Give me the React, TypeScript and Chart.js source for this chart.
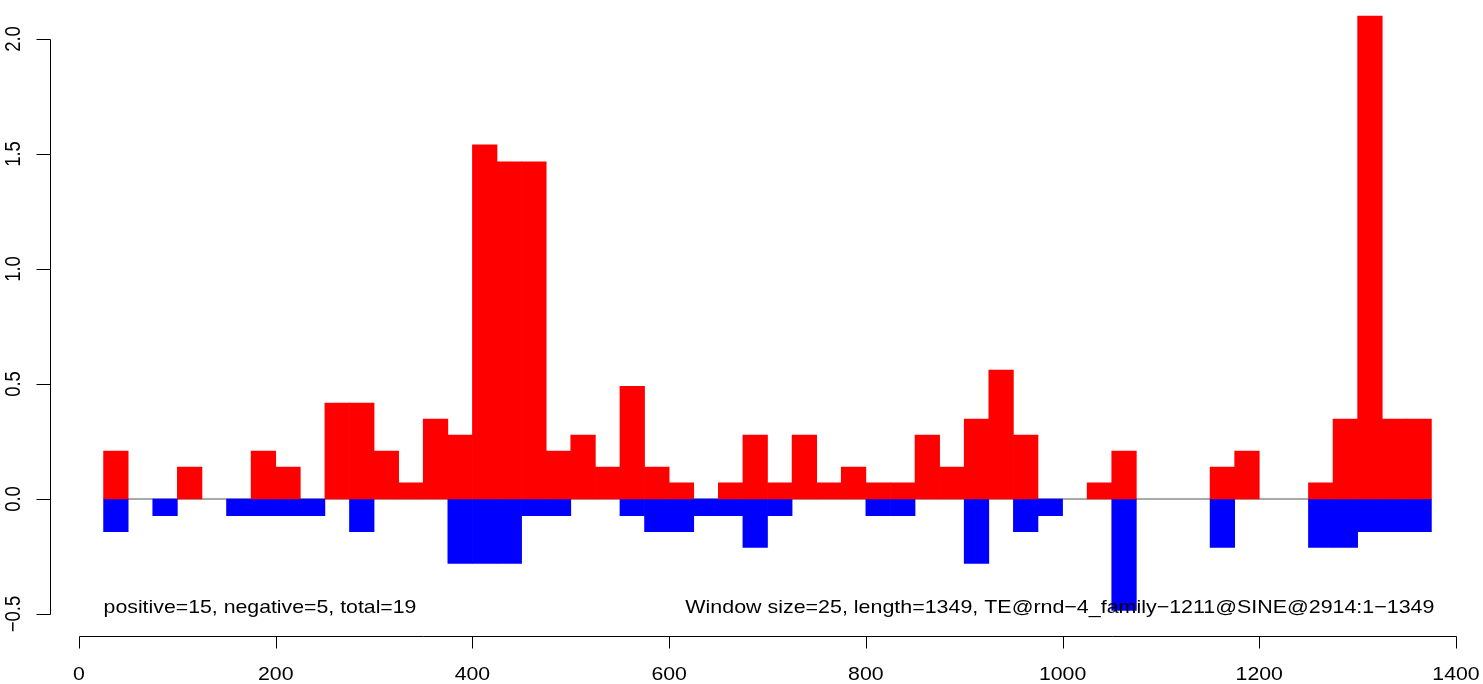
import React, { useEffect, useRef } from "react";
import { Chart, registerables } from "chart.js";

Chart.register(...registerables);

// Window start positions (window size = 25)
const windowStarts = [
  25, 50, 75, 100, 125, 150, 175, 200, 225, 250, 275, 300, 325, 350, 375, 400, 425, 450,
  475, 500, 525, 550, 575, 600, 625, 650, 675, 700, 725, 750, 775, 800, 825, 850, 875, 900,
  925, 950, 975, 1000, 1025, 1050, 1075, 1100, 1125, 1150, 1175, 1200, 1225, 1250, 1275, 1300,
  1325, 1350,
];
const windowSize = 25;

const positiveValues = [
  0.208, 0, 0, 0.139, 0, 0, 0.208, 0.139, 0, 0.417, 0.417, 0.208, 0.07, 0.347, 0.278, 1.54, 1.466, 1.466,
  0.208, 0.278, 0.139, 0.49, 0.139, 0.07, 0, 0.07, 0.278, 0.07, 0.278, 0.07, 0.139, 0.07, 0.07, 0.278, 0.139, 0.347,
  0.56, 0.278, 0, 0, 0.07, 0.208, 0, 0, 0, 0.139, 0.208, 0, 0, 0.07, 0.347, 2.1,
  0.347, 0.347,
];
const negativeValues = [
  -0.142, 0, -0.072, 0, 0, -0.072, -0.072, -0.072, -0.072, 0, -0.142, 0, 0, 0, -0.28, -0.28, -0.28, -0.072,
  -0.072, 0, 0, -0.072, -0.142, -0.142, -0.072, -0.072, -0.21, -0.072, 0, 0, 0, -0.072, -0.072, 0, 0, -0.28,
  0, -0.142, -0.072, 0, 0, -0.484, 0, 0, 0, -0.21, 0, 0, 0, -0.21, -0.21, -0.142,
  -0.142, -0.142,
];

const xTicks = [0, 200, 400, 600, 800, 1000, 1200, 1400];
const xTickLabels = ["0", "200", "400", "600", "800", "1000", "1200", "1400"];
const yTicks = [-0.5, 0, 0.5, 1, 1.5, 2];
const yTickLabels = ["\u22120.5", "0.0", "0.5", "1.0", "1.5", "2.0"];

const leftNote = "positive=15, negative=5, total=19";
const rightNote = "Window size=25, length=1349, TE@rnd\u22124_family\u22121211@SINE@2914:1\u22121349";

const FONT = '18.5px "Liberation Sans", Arial, Helvetica, sans-serif';
const STRETCH = 1.15;

const rAxesPlugin = {
  id: "rAxes",
  afterDraw(chart: any) {
    const ctx = chart.ctx as CanvasRenderingContext2D;
    const xs = chart.scales.x;
    const ys = chart.scales.y;
    ctx.save();
    ctx.strokeStyle = "#000";
    ctx.fillStyle = "#000";
    ctx.lineWidth = 1;
    ctx.font = FONT;

    // Y axis
    const axX = 50.5;
    const y0 = Math.round(ys.getPixelForValue(yTicks[0])) + 0.5;
    const y1 = Math.round(ys.getPixelForValue(yTicks[yTicks.length - 1])) + 0.5;
    ctx.beginPath();
    ctx.moveTo(axX, y0);
    ctx.lineTo(axX, y1);
    yTicks.forEach((v) => {
      const py = Math.round(ys.getPixelForValue(v)) + 0.5;
      ctx.moveTo(axX, py);
      ctx.lineTo(axX - 14, py);
    });
    ctx.stroke();
    yTicks.forEach((v, i) => {
      const py = ys.getPixelForValue(v);
      ctx.save();
      ctx.translate(20, py);
      ctx.rotate(-Math.PI / 2);
      ctx.scale(1, STRETCH);
      ctx.textAlign = "center";
      ctx.textBaseline = "alphabetic";
      ctx.fillText(yTickLabels[i], 0, 0);
      ctx.restore();
    });

    // X axis
    const axY = 636.5;
    const xa = Math.round(xs.getPixelForValue(xTicks[0])) + 0.5;
    const xb = Math.round(xs.getPixelForValue(xTicks[xTicks.length - 1])) + 0.5;
    ctx.beginPath();
    ctx.moveTo(xa, axY);
    ctx.lineTo(xb, axY);
    xTicks.forEach((v) => {
      const px = Math.round(xs.getPixelForValue(v)) + 0.5;
      ctx.moveTo(px, axY);
      ctx.lineTo(px, axY + 12);
    });
    ctx.stroke();
    xTicks.forEach((v, i) => {
      const px = xs.getPixelForValue(v);
      ctx.save();
      ctx.translate(px, 680);
      ctx.scale(STRETCH, 1);
      ctx.textAlign = "center";
      ctx.textBaseline = "alphabetic";
      ctx.fillText(xTickLabels[i], 0, 0);
      ctx.restore();
    });

    // Notes
    const firstX = xs.getPixelForValue(windowStarts[0]);
    const lastX = xs.getPixelForValue(windowStarts[windowStarts.length - 1] + windowSize);
    ctx.save();
    ctx.translate(firstX, 613);
    ctx.scale(STRETCH, 1);
    ctx.textAlign = "left";
    ctx.fillText(leftNote, 0, 0);
    ctx.restore();
    ctx.save();
    ctx.translate(lastX + 3, 613);
    ctx.scale(STRETCH * 1.007, 1);
    ctx.textAlign = "right";
    ctx.fillText(rightNote, 0, 0);
    ctx.restore();

    ctx.restore();
  },
};

export default function App() {
  const ref = useRef<HTMLCanvasElement | null>(null);

  useEffect(() => {
    if (!ref.current) return;
    const centers = windowStarts.map((s) => s + windowSize / 2);
    const chart = new Chart(ref.current, {
      type: "bar",
      data: {
        datasets: [
          {
            type: "line",
            data: [
              { x: windowStarts[0], y: 0 },
              { x: windowStarts[windowStarts.length - 1] + windowSize, y: 0 },
            ],
            borderColor: "#555555",
            borderWidth: 1,
            pointRadius: 0,
            order: 5,
          } as any,
          {
            type: "bar",
            data: centers.map((c, i) => ({ x: c, y: positiveValues[i] === 0 ? null : positiveValues[i] })),
            backgroundColor: "#FF0000",
            borderWidth: 0,
            barPercentage: 1,
            categoryPercentage: 1,
            grouped: false,
            order: 1,
          } as any,
          {
            type: "bar",
            data: centers.map((c, i) => ({ x: c, y: negativeValues[i] === 0 ? null : negativeValues[i] })),
            backgroundColor: "#0000FF",
            borderWidth: 0,
            barPercentage: 1,
            categoryPercentage: 1,
            grouped: false,
            order: 2,
          } as any,
        ],
      },
      options: {
        responsive: false,
        animation: false,
        devicePixelRatio: 1,
        layout: { padding: { left: 79, right: 27, top: 4.5, bottom: 47 } },
        plugins: { legend: { display: false }, tooltip: { enabled: false } },
        scales: {
          x: { type: "linear", min: 0, max: 1400, offset: false, display: false },
          y: { type: "linear", min: -0.6, max: 2.15, display: false },
        },
      },
      plugins: [rAxesPlugin],
    });
    return () => chart.destroy();
  }, []);

  return (
    <div style={{ position: "fixed", left: 0, top: 0, width: 1483, height: 684, background: "#fff" }}>
      <canvas ref={ref} width={1483} height={684} style={{ display: "block", width: 1483, height: 684 }} />
    </div>
  );
}
